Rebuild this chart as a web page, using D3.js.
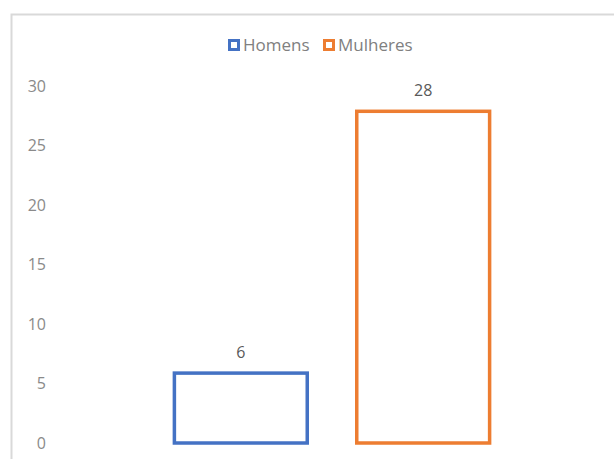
<!DOCTYPE html>
<html>
<head>
<meta charset="utf-8">
<script src="https://cdn.jsdelivr.net/npm/d3@7"></script>
<style>
  html, body { margin: 0; padding: 0; background: #fff; }
  svg { display: block; font-family: "Open Sans", "Liberation Sans", sans-serif; }
</style>
</head>
<body>
<div id="chart"></div>
<script>
// chart values
var series = ["Homens", "Mulheres"];
var values = [6, 28];
var colors = ["#4472C4", "#ED7D31"];
var yTicks = [0, 5, 10, 15, 20, 25, 30];

var width = 614, height = 459;

var svg = d3.select("#chart").append("svg")
  .attr("width", width)
  .attr("height", height);

// chart border (runs past the right and bottom edges)
svg.append("rect")
  .attr("x", 11.5).attr("y", 14.5)
  .attr("width", 700).attr("height", 600)
  .attr("fill", "none")
  .attr("stroke", "#d9d9d9")
  .attr("stroke-width", 2);

var y = d3.scaleLinear().domain([0, 30]).range([443, 86]);
var x = d3.scaleBand().domain(series).range([58, 606])
  .paddingInner(0.255).paddingOuter(0.63);

// y axis labels, no line
var yAxis = d3.axisLeft(y).tickValues(yTicks).tickSize(0).tickPadding(0);
var gy = svg.append("g").attr("transform", "translate(46,0)").call(yAxis);
gy.select(".domain").remove();
gy.selectAll("text")
  .attr("fill", "#8a8a8a")
  .style("font-size", "16px")
  .style("font-family", "'Open Sans', 'Liberation Sans', sans-serif");

// bars (outline only)
svg.selectAll("rect.bar")
  .data(values)
  .enter().append("rect")
  .attr("class", "bar")
  .attr("x", function(d, i) { return x(series[i]) + 1.5; })
  .attr("width", x.bandwidth() - 3)
  .attr("y", function(d) { return y(d) + 1.5; })
  .attr("height", function(d) { return y(0) - y(d) - 1.5; })
  .attr("fill", "#fff")
  .attr("stroke", function(d, i) { return colors[i]; })
  .attr("stroke-width", 3.5);

// value labels
svg.selectAll("text.val")
  .data(values)
  .enter().append("text")
  .attr("class", "val")
  .attr("x", function(d, i) { return x(series[i]) + x.bandwidth() / 2; })
  .attr("y", function(d) { return y(d) - 14; })
  .attr("text-anchor", "middle")
  .attr("fill", "#595959")
  .style("font-size", "16px")
  .text(function(d) { return d; });

// legend
var legendX = [228, 323];
var lg = svg.selectAll("g.leg")
  .data(series)
  .enter().append("g")
  .attr("class", "leg")
  .attr("transform", function(d, i) { return "translate(" + legendX[i] + ",39)"; });
lg.append("rect")
  .attr("x", 1.5).attr("y", 1.5)
  .attr("width", 9).attr("height", 9)
  .attr("fill", "#fff")
  .attr("stroke", function(d, i) { return colors[i]; })
  .attr("stroke-width", 3);
lg.append("text")
  .attr("x", 15).attr("y", 12)
  .attr("fill", "#808080")
  .style("font-size", "17px")
  .text(function(d) { return d; });
</script>
</body>
</html>
